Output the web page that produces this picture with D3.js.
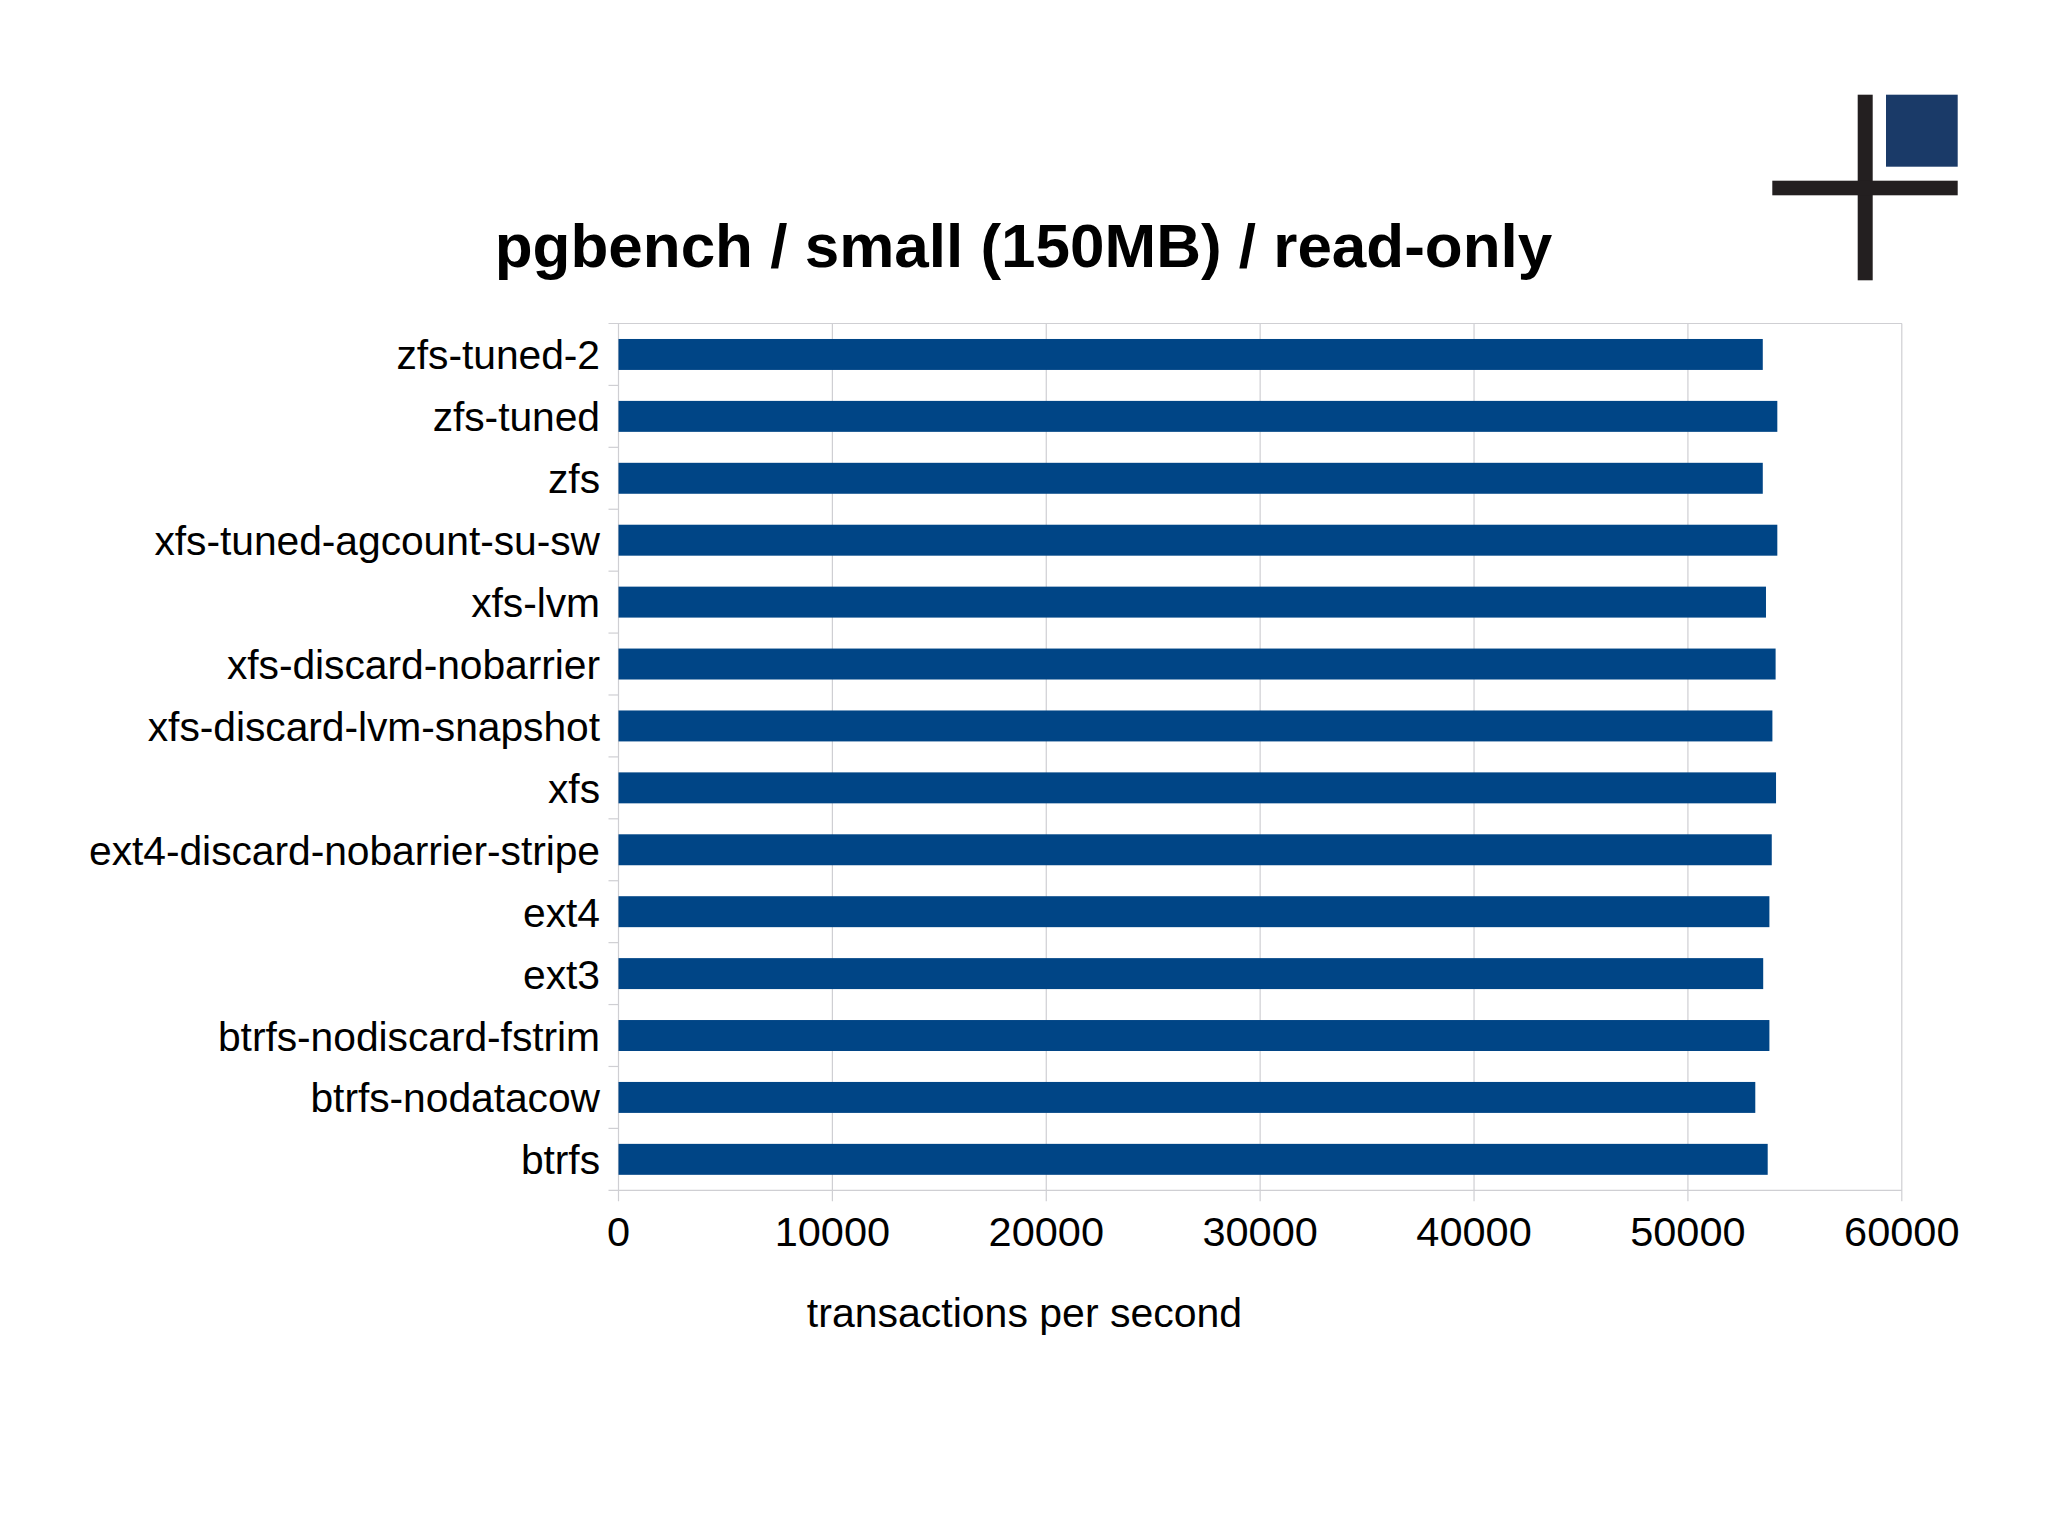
<!DOCTYPE html>
<html><head><meta charset="utf-8">
<script src="https://cdn.jsdelivr.net/npm/d3@7/dist/d3.min.js"></script>
<style>html,body{margin:0;padding:0;background:#fff}svg{display:block}text{font-family:"Liberation Sans",Arial,sans-serif;fill:#000}</style>
</head><body><div id="c"></div>
<script>
const categories=["zfs-tuned-2","zfs-tuned","zfs","xfs-tuned-agcount-su-sw","xfs-lvm","xfs-discard-nobarrier","xfs-discard-lvm-snapshot","xfs","ext4-discard-nobarrier-stripe","ext4","ext3","btrfs-nodiscard-fstrim","btrfs-nodatacow","btrfs"];
const values=[53500,54180,53500,54180,53650,54100,53950,54120,53920,53810,53520,53810,53150,53730];
const xTicks=[0,10000,20000,30000,40000,50000,60000];
const title="pgbench / small (150MB) / read-only";
const xLabel="transactions per second";
const W=2048,H=1535;
const m={l:618.5,r:1901.8,t:323.5,b:1190.3};
const svg=d3.select("#c").append("svg").attr("width",W).attr("height",H);
const x=d3.scaleLinear().domain([0,60000]).range([m.l,m.r]);
const y=d3.scaleBand().domain(categories).range([m.t,m.b]).paddingInner(0.5).paddingOuter(0.25);
const grid="#cfcfd3";
svg.append("g").selectAll("line").data(xTicks).join("line")
 .attr("x1",d=>x(d)).attr("x2",d=>x(d)).attr("y1",m.t).attr("y2",m.b+11)
 .attr("stroke",grid).attr("stroke-width",1.2);
svg.append("line").attr("x1",m.l).attr("x2",m.r).attr("y1",m.t).attr("y2",m.t).attr("stroke",grid).attr("stroke-width",1.2);
const yEdges=d3.range(categories.length+1).map(i=>m.t+i*(m.b-m.t)/categories.length);
svg.append("g").selectAll("line").data(yEdges).join("line")
 .attr("x1",m.l-10).attr("x2",d=>(d===m.t||d===m.b)?m.r:m.l).attr("y1",d=>d).attr("y2",d=>d)
 .attr("stroke",grid).attr("stroke-width",1.2);
svg.append("g").selectAll("rect").data(categories).join("rect")
 .attr("x",m.l).attr("y",d=>y(d)).attr("height",y.bandwidth())
 .attr("width",(d,i)=>x(values[i])-m.l).attr("fill","#004586");
svg.append("g").selectAll("text").data(categories).join("text")
 .attr("x",600).attr("y",d=>y(d)+y.bandwidth()/2+15).attr("text-anchor","end")
 .attr("font-size",40.8).attr("letter-spacing",-0.05).text(d=>d);
svg.append("g").selectAll("text").data(xTicks).join("text")
 .attr("x",d=>x(d)).attr("y",1246).attr("text-anchor","middle").attr("font-size",41.5).text(d=>d);
svg.append("text").attr("x",1024.5).attr("y",1327).attr("text-anchor","middle").attr("font-size",41).text(xLabel);
svg.append("text").attr("x",1023.5).attr("y",266.5).attr("text-anchor","middle").attr("font-size",62).attr("font-weight","bold").text(title);
// logo
const logo=svg.append("g");
logo.append("rect").attr("x",1857.7).attr("y",94.7).attr("width",15).attr("height",185.6).attr("fill","#231f20");
logo.append("rect").attr("x",1772.3).attr("y",180.7).attr("width",185.4).attr("height",14.6).attr("fill","#231f20");
logo.append("rect").attr("x",1886).attr("y",94.7).attr("width",71.7).attr("height",72).attr("fill","#1a3a68");
</script></body></html>
